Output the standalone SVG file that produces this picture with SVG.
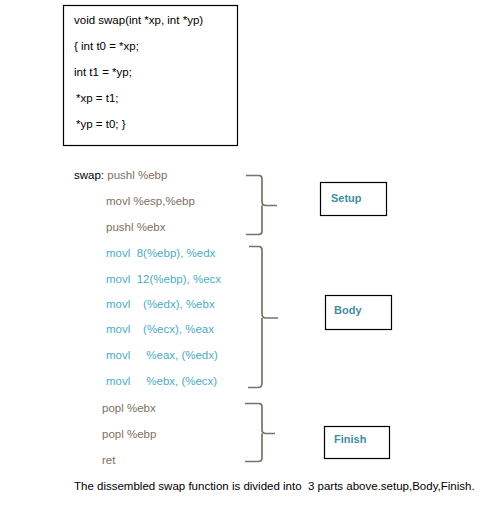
<svg xmlns="http://www.w3.org/2000/svg" width="504" height="514" viewBox="0 0 504 514">
<style>
text{font-family:"Liberation Sans",Arial,sans-serif;font-size:11.5px}
.k{fill:#000}
.g{fill:#7d7060}
.b{fill:#4aacc6}
.lbl{fill:#3f8ea5;font-weight:bold;font-size:11px}
.box{fill:#fff;stroke:#000;stroke-width:1.2}
.br{fill:none;stroke:#7a7264;stroke-width:1.7}
</style>
<rect width="504" height="514" fill="#fff"/>
<g id="code">
<rect class="box" x="63.5" y="5.5" width="174" height="140"/>
<text class="k" x="74" y="24">void swap(int *xp, int *yp)</text>
<text class="k" x="74" y="50">{ int t0 = *xp;</text>
<text class="k" x="74" y="76">int t1 = *yp;</text>
<text class="k" x="76" y="102">*xp = t1;</text>
<text class="k" x="76" y="128">*yp = t0; }</text>
</g>
<g id="asm">
<text x="74" y="179"><tspan class="k">swap: </tspan><tspan class="g">pushl %ebp</tspan></text>
<text class="g" x="106" y="205">movl %esp,%ebp</text>
<text class="g" x="106" y="231">pushl %ebx</text>
<text class="b" x="106" y="257" xml:space="preserve">movl  8(%ebp), %edx</text>
<text class="b" x="106" y="283" xml:space="preserve">movl  12(%ebp), %ecx</text>
<text class="b" x="106" y="308" xml:space="preserve">movl    (%edx), %ebx</text>
<text class="b" x="106" y="333" xml:space="preserve">movl    (%ecx), %eax</text>
<text class="b" x="106" y="359" xml:space="preserve">movl     %eax, (%edx)</text>
<text class="b" x="106" y="385" xml:space="preserve">movl     %ebx, (%ecx)</text>
<text class="g" x="102" y="412">popl %ebx</text>
<text class="g" x="102" y="438">popl %ebp</text>
<text class="g" x="102" y="464">ret</text>
</g>
<g id="connectors">
<path class="br" d="M246,175.5 H259 Q262,175.5 262,179 V202 Q262,205.5 266,205.5 H277 M262,205.5 V231 Q262,234.5 259,234.5 H246"/>
<path class="br" d="M249,246.5 H259 Q262,246.5 262,250 V314 Q262,318 266,318 H278 M262,318 V383 Q262,387.5 258,387.5 H248"/>
<path class="br" d="M245,403.5 H259 Q262,403.5 262,407 V430 Q262,433.5 266,433.5 H275 M262,433.5 V458 Q262,461.5 258,461.5 H245"/>
</g>
<g id="setup">
<rect class="box" x="320.5" y="182.5" width="66" height="33"/>
<text class="lbl" x="331" y="202">Setup</text>
</g>
<g id="body">
<rect class="box" x="325.5" y="295.5" width="66" height="34"/>
<text class="lbl" x="334" y="314">Body</text>
</g>
<g id="finish">
<rect class="box" x="324.5" y="426.5" width="65" height="32"/>
<text class="lbl" x="334" y="443">Finish</text>
</g>
<text class="k" x="74" y="490" xml:space="preserve">The dissembled swap function is divided into  3 parts above.setup,Body,Finish.</text>
</svg>
